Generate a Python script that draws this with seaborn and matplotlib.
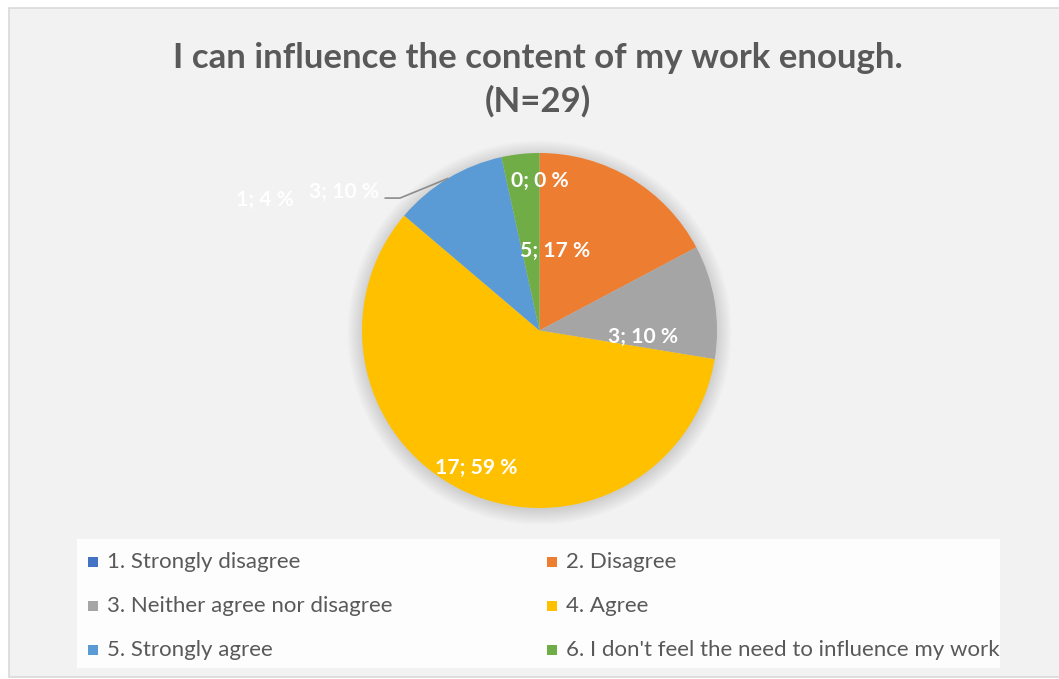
import numpy as np
import matplotlib
matplotlib.use("Agg")
import matplotlib.pyplot as plt
from matplotlib.patches import Rectangle, Circle
import seaborn as sns

# ---- data -------------------------------------------------------------
categories = [
    "1. Strongly disagree",
    "2. Disagree",
    "3. Neither agree nor disagree",
    "4. Agree",
    "5. Strongly agree",
    "6. I don't feel the need to influence my work",
]
counts = [0, 5, 3, 17, 3, 1]
percents = [0, 17, 10, 59, 10, 4]
title_lines = ["I can influence the content of my work enough.", "(N=29)"]
colors = ["#4472C4", "#ED7D31", "#A5A5A5", "#FFC000", "#5B9BD5", "#70AD47"]

# ---- style ------------------------------------------------------------
sns.set_theme(style="white")
plt.rcParams["font.family"] = ["Lato", "DejaVu Sans"]

W, H, DPI = 1059, 679, 100
fig = plt.figure(figsize=(W / DPI, H / DPI), dpi=DPI, facecolor="white")

# pie geometry in pixels (centre and radius); the axes spans the whole figure
cx, cy, R = 539.5, 330.5, 177.5
ax = fig.add_axes([0, 0, 1, 1])
ax.set_axis_off()


def fx(px):
    return px / W


def fy(py):
    return 1 - py / H


# chart area panel
ax.add_patch(Rectangle((fx(9), fy(677)), fx(1059) - fx(9) + 0.01, fy(8) - fy(677),
                       transform=fig.transFigure, facecolor="#f2f2f2",
                       edgecolor="#d9d9d9", linewidth=1.2, zorder=0, clip_on=False))

# soft glow behind the pie
for i in range(12):
    ax.add_patch(Circle((0, -0.012), 1.0 + 0.0075 * i, facecolor="black",
                        edgecolor="none", alpha=0.011, zorder=1))

wedges, _ = ax.pie(counts, colors=colors, startangle=90, counterclock=False,
                   radius=1.0, center=(0, 0),
                   wedgeprops=dict(linewidth=0, zorder=2))

# data limits: one unit equals the pie radius in pixels
ax.set_xlim(-cx / R, (W - cx) / R)
ax.set_ylim(-(H - cy) / R, cy / R)
ax.set_aspect("auto")

# ---- data labels ------------------------------------------------------
label_xy = [(0.0, 0.84), (0.087, 0.448), (0.583, -0.039),
            (-0.358, -0.775), (-1.101, 0.78), (-1.546, 0.735)]
for c, p, (x, y) in zip(counts, percents, label_xy):
    ax.text(x, y, f"{c}; {p} %", color="white", fontsize=15.2,
            fontweight="bold", ha="center", va="center", zorder=5)

# leader line for the label placed outside the "Strongly agree" slice
w = wedges[4]
mid = np.deg2rad((w.theta1 + w.theta2) / 2)
ex, ey = np.cos(mid), np.sin(mid)
ax.plot([-0.870, -0.786, ex], [0.746, 0.746, ey], color="#8c8c8c",
        linewidth=1.2, zorder=4, solid_capstyle="round")

# ---- title ------------------------------------------------------------
fig.text(fx(538), fy(58), title_lines[0], ha="center", va="center",
         fontsize=25, fontweight="bold", color="#595959")
fig.text(fx(538), fy(101), title_lines[1], ha="center", va="center",
         fontsize=25, fontweight="bold", color="#595959")

# ---- legend -----------------------------------------------------------
ax.add_patch(Rectangle((fx(77), fy(668)), fx(1000) - fx(77), fy(539) - fy(668),
                       transform=fig.transFigure, facecolor="#fdfdfd",
                       edgecolor="none", zorder=3, clip_on=False))
col_x = [88, 547]
row_y = [562, 606, 650]
for i, (name, col) in enumerate(zip(categories, colors)):
    px = col_x[i % 2]
    py = row_y[i // 2]
    ax.add_patch(Rectangle((fx(px), fy(py + 5)), fx(10), 10 / H,
                           transform=fig.transFigure, facecolor=col,
                           edgecolor="none", zorder=4, clip_on=False))
    fig.text(fx(px + 19), fy(py), name, ha="left", va="center",
             fontsize=16.0, color="#595959")

fig.savefig("out.png", dpi=DPI, facecolor="white")
